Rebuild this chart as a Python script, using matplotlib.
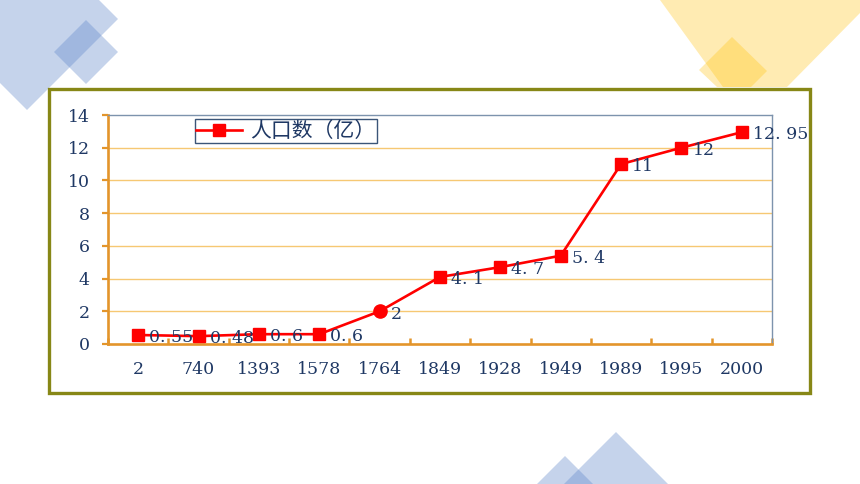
import matplotlib.pyplot as plt
from matplotlib.patches import Polygon, Rectangle
from matplotlib.lines import Line2D

plt.rcParams['font.family'] = ['DejaVu Serif']

years = ['2', '740', '1393', '1578', '1764', '1849', '1928', '1949', '1989', '1995', '2000']
population = [0.55, 0.48, 0.6, 0.6, 2, 4.1, 4.7, 5.4, 11, 12, 12.95]
marker_kind = ['s', 's', 's', 's', 'o', 's', 's', 's', 's', 's', 's']
legend_label = '人口数（亿）'
y_ticks = [0, 2, 4, 6, 8, 10, 12, 14]

W, H = 860, 484
navy = '#1f3864'
orange = '#e3952b'
grid_col = '#f6c873'
edge_col = '#7d93ad'
red = '#ff0000'

fig = plt.figure(figsize=(W / 100, H / 100), dpi=100)

# background decoration, pixel coordinates
bg = fig.add_axes([0, 0, 1, 1])
bg.set_xlim(0, W)
bg.set_ylim(H, 0)
bg.axis('off')

blue = '#5f86ca'
yellow = '#ffc000'
shapes = [
    ([(27, -72), (118, 19), (27, 110), (-64, 19)], blue, 0.36),
    ([(86, 20), (118, 52), (86, 84), (54, 52)], blue, 0.36),
    ([(660, 0), (860, 0), (860, 13), (787, 87), (723, 87)], yellow, 0.3),
    ([(732, 37), (767, 71), (751, 87), (717, 87), (699, 70)], yellow, 0.3),
    ([(616, 432), (668, 484), (564, 484)], blue, 0.36),
    ([(565, 456), (593, 484), (537, 484)], blue, 0.36),
]
for pts, c, a in shapes:
    bg.add_patch(Polygon(pts, closed=True, facecolor=c, alpha=a, edgecolor='none'))

bg.add_patch(Rectangle((49, 89), 761, 304, facecolor='white', edgecolor='#878716', linewidth=2.4))

# chart
x0, x1, ytop, ybot = 108, 772, 115, 344
ax = fig.add_axes([x0 / W, 1 - ybot / H, (x1 - x0) / W, (ybot - ytop) / H])
ax.set_facecolor('none')

xs = list(range(len(years)))
ax.plot(xs, population, color=red, linewidth=1.9, zorder=3)
for x, v, m in zip(xs, population, marker_kind):
    ax.plot(x, v, marker=m, color=red, markersize=9 if m == 's' else 9.5,
            linestyle='none', zorder=4)
    ax.annotate(f'{v:g}'.replace('.', '. '), (x, v), xytext=(8, -2),
                textcoords='offset points', va='center', ha='left',
                fontsize=12.5, color=navy, zorder=5, annotation_clip=False)

ax.set_xlim(-0.5, len(years) - 0.5)
ax.set_ylim(0, 14)

ax.set_yticks(y_ticks)
ax.set_yticklabels([str(t) for t in y_ticks])
ax.tick_params(axis='y', direction='out', length=4, width=1.6, color=orange,
               labelcolor=navy, labelsize=12.5, pad=9)
for t in y_ticks[1:-1]:
    ax.axhline(t, color=grid_col, linewidth=1, zorder=1)

ax.set_xticks(xs)
ax.set_xticklabels(years)
ax.tick_params(axis='x', which='major', length=0, labelcolor=navy, labelsize=12.5, pad=12)
ax.set_xticks([i - 0.5 for i in range(len(years) + 1)], minor=True)
ax.tick_params(axis='x', which='minor', direction='in', length=4, width=1.8, color=orange)

for side in ['left', 'bottom']:
    ax.spines[side].set_color(orange)
    ax.spines[side].set_linewidth(1.9)
for side in ['top', 'right']:
    ax.spines[side].set_color(edge_col)
    ax.spines[side].set_linewidth(1.0)

handle = Line2D([], [], color=red, linewidth=1.9, marker='s', markersize=9)
leg = ax.legend([handle], [legend_label], loc='upper left',
                bbox_to_anchor=((195 - x0) / (x1 - x0), (ybot - 119) / (ybot - ytop)),
                borderaxespad=0, fancybox=False, framealpha=1, handlelength=2.2,
                borderpad=0.05, handletextpad=0.4,
                prop={'family': ['Noto Sans CJK SC', 'DejaVu Sans'], 'size': 15})
leg.get_frame().set_edgecolor('#3b5578')
leg.get_frame().set_linewidth(1.0)
for txt in leg.get_texts():
    txt.set_color(navy)

fig.savefig('out.png', dpi=100)
